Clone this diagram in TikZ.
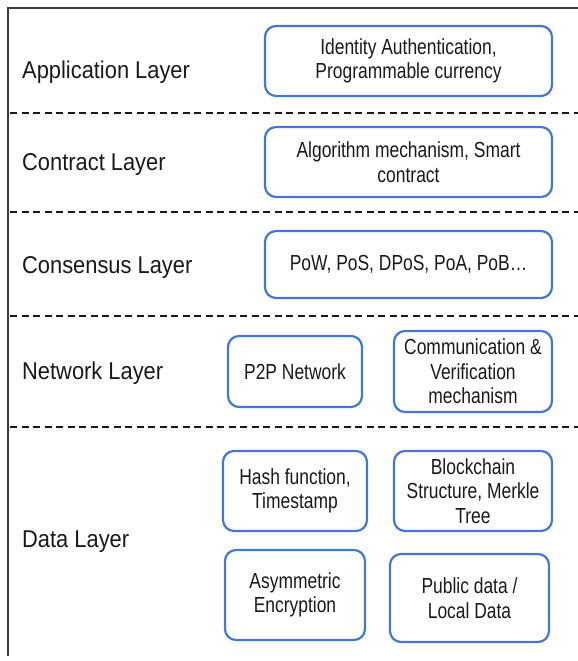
\documentclass[tikz,border=0pt]{standalone}
\usepackage{fontspec}
\setmainfont[FakeStretch=0.8]{Liberation Sans}
\newfontfamily\labelfont[FakeStretch=0.9]{Liberation Sans}
\definecolor{boxblue}{RGB}{66,120,210}
\definecolor{ink}{RGB}{25,25,25}
\begin{document}
\begin{tikzpicture}[x=1bp,y=-1bp,
  layerlabel/.style={anchor=west, inner sep=0pt, text=ink, font=\labelfont\fontsize{24.3bp}{29bp}\selectfont},
  itembox/.style={draw=boxblue, line width=2.2bp, rounded corners=11bp, align=center, inner sep=0pt,
    text=ink, font=\fontsize{21.8bp}{24.6bp}\selectfont},
  sep/.style={draw=ink, line width=1.4bp, dash pattern=on 7bp off 4.5bp},
  frame/.style={draw=ink!85, line width=1.5bp}]
\useasboundingbox (0,0) rectangle (578,661);
% frame
\coordinate (tl) at (8,8);
\coordinate (tr) at (578,8);
\coordinate (bl) at (8,656);
\draw[frame] (tr) -- (tl) -- (bl);
% separators
\foreach \yy/\nm in {113/s1,212/s2,316/s3,427/s4}{
  \coordinate (\nm a) at (10,\yy);
  \coordinate (\nm b) at (578,\yy);
  \draw[sep] (\nm a) -- (\nm b);
}
% layer labels
\node[layerlabel] (lapp) at (22,72) {Application Layer};
\node[layerlabel] (lcon) at (22,165) {Contract Layer};
\node[layerlabel] (lcns) at (22,268) {Consensus Layer};
\node[layerlabel] (lnet) at (22,373) {Network Layer};
\node[layerlabel] (ldat) at (22,542) {Data Layer};
% boxes
\node[itembox, minimum width=287bp, minimum height=70bp] (app) at (408.5,61) {Identity Authentication,\\Programmable currency};
\node[itembox, minimum width=287bp, minimum height=70bp] (ctr) at (408.5,162) {Algorithm mechanism, Smart\\contract};
\node[itembox, minimum width=287bp, minimum height=67bp] (cns) at (408.5,264.5) {PoW, PoS, DPoS, PoA, PoB…};
\node[itembox, minimum width=134bp, minimum height=71bp] (p2p) at (295,371.5) {P2P Network};
\node[itembox, minimum width=158bp, minimum height=81bp] (com) at (473,371.5) {Communication \&\\Verification\\mechanism};
\node[itembox, minimum width=144bp, minimum height=80bp] (hash) at (295,491) {Hash function,\\Timestamp};
\node[itembox, minimum width=158bp, minimum height=80bp] (blk) at (473,491) {Blockchain\\Structure, Merkle\\Tree};
\node[itembox, minimum width=140bp, minimum height=90bp] (asy) at (295,595) {Asymmetric\\Encryption};
\node[itembox, minimum width=159bp, minimum height=88bp] (pub) at (469.5,598) {Public data /\\Local Data};
\end{tikzpicture}
\end{document}
